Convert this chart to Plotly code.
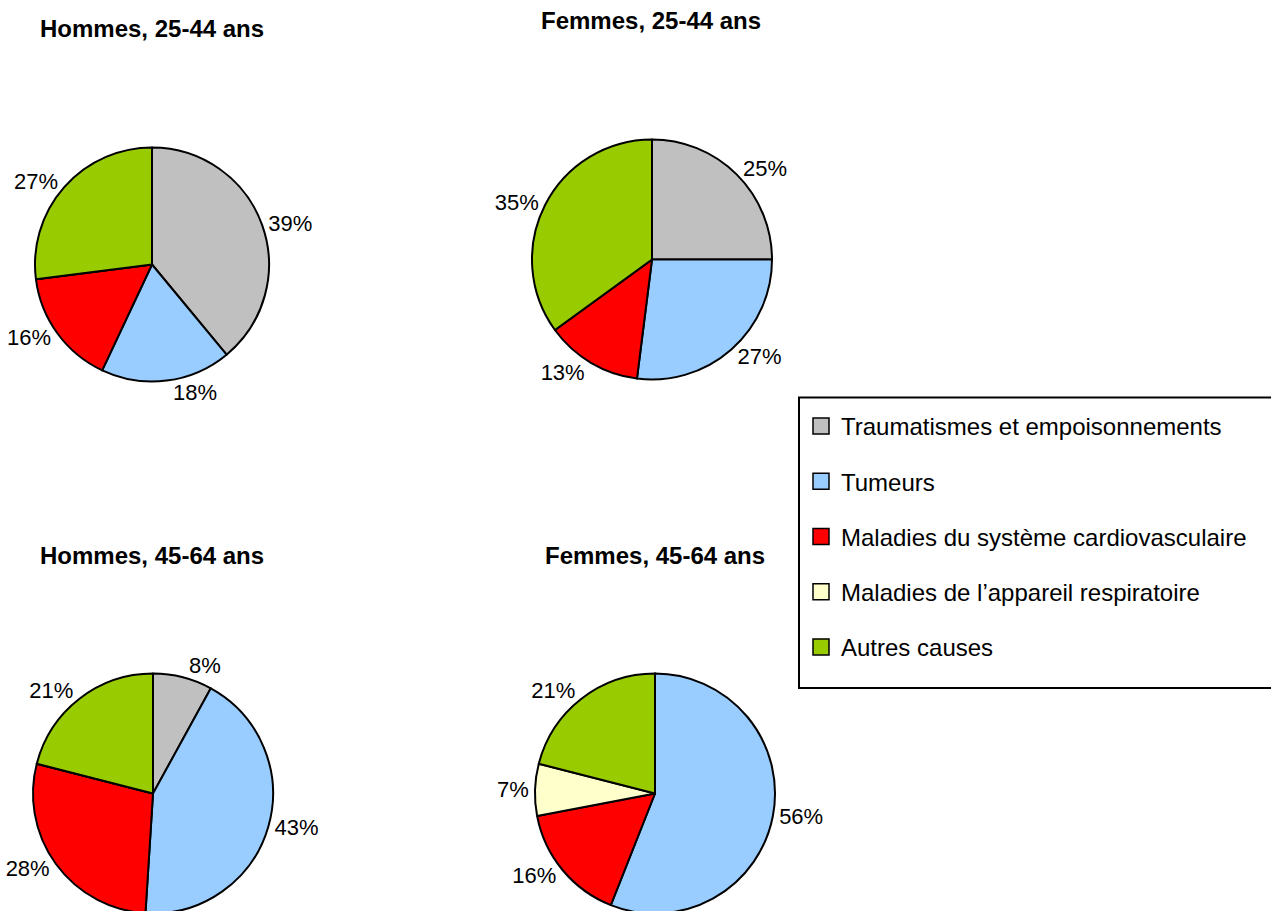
import plotly.graph_objects as go

causes = ['Traumatismes et empoisonnements', 'Tumeurs', 'Maladies du système cardiovasculaire',
          'Maladies de l’appareil respiratoire', 'Autres causes']
colors = ['#C0C0C0', '#99CCFF', '#FF0000', '#FFFFCC', '#99CC00']

titles = ['Hommes, 25-44 ans', 'Femmes, 25-44 ans', 'Hommes, 45-64 ans', 'Femmes, 45-64 ans']
hommes_25_44 = [39, 18, 16, 0, 27]
femmes_25_44 = [25, 27, 13, 0, 35]
hommes_45_64 = [8, 43, 28, 0, 21]
femmes_45_64 = [0, 56, 16, 7, 21]

# figure is a bit taller than the window so the bottom pies can run off the edge
W, H = 1271, 940
FONT = 'Liberation Sans, Arial'


def px_x(x):
    return x / W


def px_y(y):
    return 1 - y / H


def pie_domain(cx, cy, r):
    return dict(x=[px_x(cx - r), px_x(cx + r)],
                y=[px_y(cy + r), px_y(cy - r)])


panels = [
    (hommes_25_44, (152, 264.5, 117), (152, 29)),
    (femmes_25_44, (652, 259.5, 120), (651, 21)),
    (hommes_45_64, (153, 793.5, 120), (152, 555)),
    (femmes_45_64, (655, 793.5, 120), (655, 555)),
]

fig = go.Figure()

for (values, (cx, cy, r), _) in panels:
    fig.add_trace(go.Pie(
        labels=causes, values=values,
        text=[f'{v}%' if v else '' for v in values],
        textinfo='text', textposition='outside',
        textfont=dict(size=22, color='black', family=FONT),
        marker=dict(colors=colors, line=dict(color='black', width=2)),
        sort=False, direction='clockwise', rotation=0,
        domain=pie_domain(cx, cy, r),
        showlegend=False, hoverinfo='label+percent',
    ))

# legend entries, one group each so the gap between them can be set
for name, color in zip(causes, colors):
    fig.add_trace(go.Scatter(
        x=[None], y=[None], mode='markers', name=name, legendgroup=name,
        marker=dict(symbol='square', size=16, color=color, line=dict(color='black', width=1.5)),
    ))

for t, (_, _, (tx, ty)) in zip(titles, panels):
    fig.add_annotation(text=f'<b>{t}</b>', x=px_x(tx), y=px_y(ty), xref='paper', yref='paper',
                       showarrow=False, xanchor='center', yanchor='middle',
                       font=dict(size=24, color='black', family=FONT))

# legend frame (runs off the right edge like the original)
fig.add_shape(type='rect', xref='paper', yref='paper',
              x0=px_x(799), x1=px_x(1290), y0=px_y(688), y1=px_y(397.5),
              line=dict(color='black', width=2), fillcolor='rgba(0,0,0,0)', layer='above')

fig.update_layout(
    width=W, height=H,
    margin=dict(l=0, r=0, t=0, b=0),
    paper_bgcolor='white', plot_bgcolor='white',
    xaxis=dict(visible=False), yaxis=dict(visible=False),
    font=dict(family=FONT, color='black'),
    legend=dict(x=px_x(801), y=px_y(404), xanchor='left', yanchor='top',
                borderwidth=0, bgcolor='rgba(0,0,0,0)',
                tracegroupgap=21, font=dict(size=24, color='black')),
)

fig.write_html('out.html', config={'displayModeBar': False},
               post_script="document.body.style.margin='0';document.body.style.overflow='hidden';")
